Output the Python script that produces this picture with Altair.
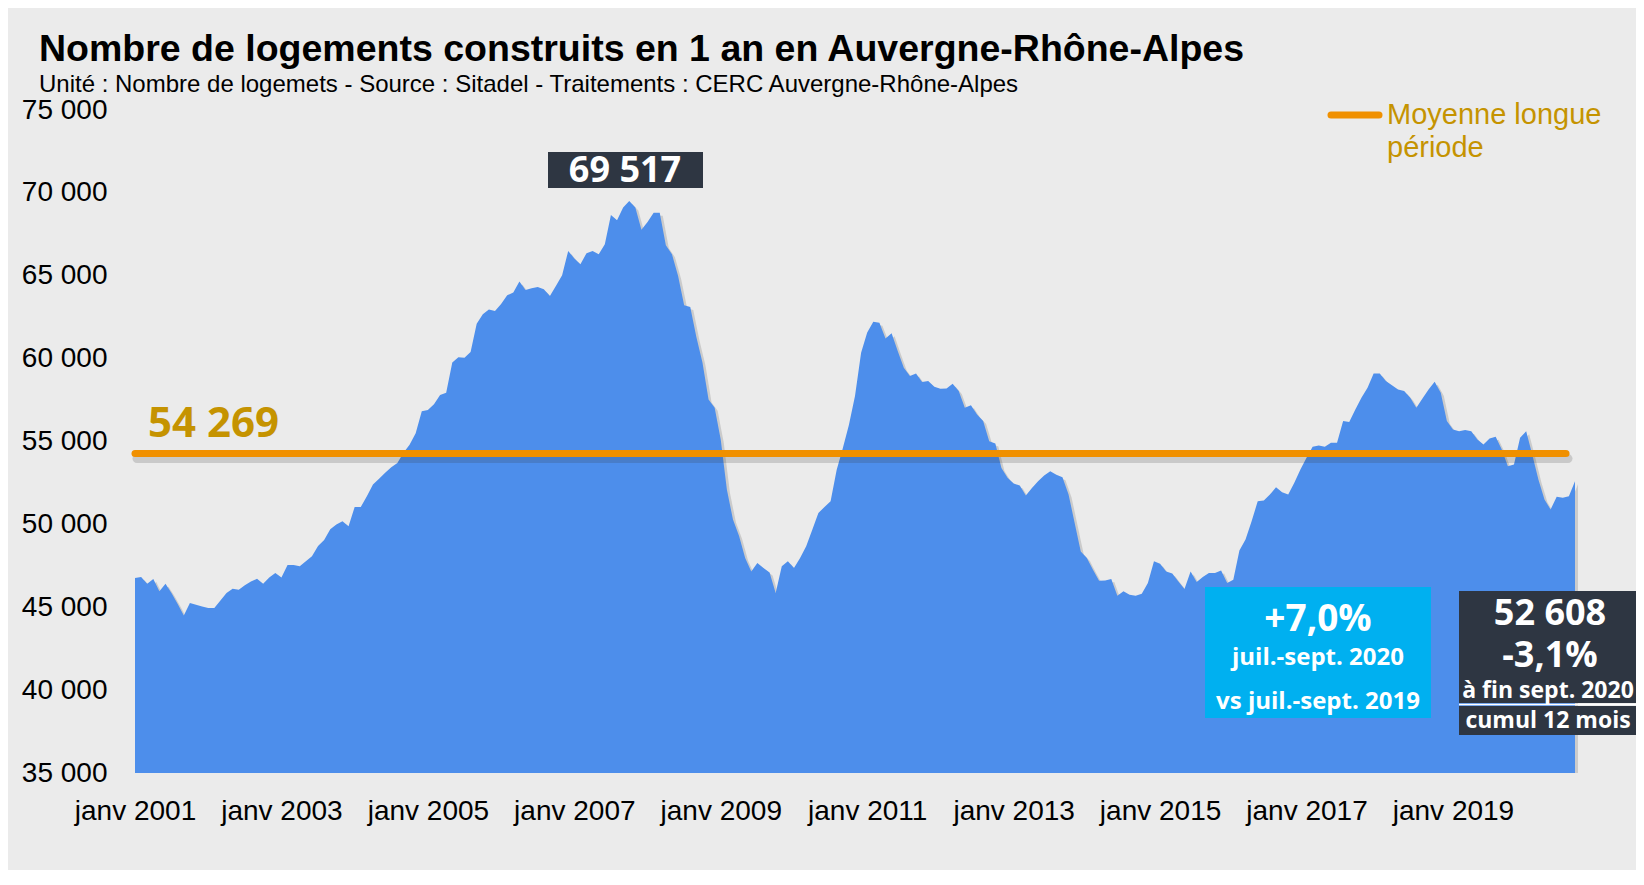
import altair as alt
import pandas as pd

# Monthly 12-month cumulative housing starts, Jan 2001 .. Sep 2020
values = [
    46760, 46830, 46420, 46700, 45960, 46420, 45850, 45200, 44500, 45250, 45150, 45050,  # 2001
    44950, 44950, 45410, 45860, 46120, 46060, 46320, 46550, 46720, 46420, 46800, 47070,  # 2002
    46800, 47550, 47550, 47470, 47770, 48070, 48700, 49050, 49700, 50000, 50190, 49880,  # 2003
    51050, 51050, 51700, 52400, 52750, 53110, 53450, 53710, 54320, 54800, 55500, 56830,  # 2004
    56900, 57240, 57800, 57940, 59760, 60090, 60050, 60400, 62100, 62670, 62970, 62870,  # 2005
    63300, 63820, 63990, 64650, 64140, 64250, 64320, 64180, 63780, 64390, 65030, 66500,  # 2006
    66040, 65700, 66360, 66500, 66300, 66900, 68660, 68350, 69120, 69517, 69120, 67770,  # 2007
    68250, 68800, 68800, 66840, 66300, 65000, 63220, 63120, 61300, 59760, 57540, 57040,  # 2008
    55100, 52100, 50290, 49300, 47970, 47160, 47670, 47370, 47100, 45860, 47470, 47770,  # 2009
    47370, 47970, 48680, 49680, 50690, 51050, 51390, 53300, 54600, 56000, 57740, 60360,  # 2010
    61570, 62230, 62170, 61220, 61530, 60460, 59450, 58950, 59110, 58590, 58650, 58310,  # 2011
    58180, 58200, 58490, 58040, 57040, 57180, 56630, 56230, 55020, 54880, 53400, 52810,  # 2012
    52460, 52340, 51740, 52200, 52600, 52950, 53200, 53000, 52840, 51800, 50090, 48370,  # 2013
    47970, 47270, 46600, 46620, 46700, 45700, 45960, 45760, 45700, 45820, 46460, 47770,  # 2014
    47630, 47160, 47030, 46560, 46100, 47160, 46520, 46830, 47070, 47070, 47210, 46460,  # 2015
    46660, 48430, 49080, 50190, 51390, 51440, 51800, 52240, 51940, 51800, 52510, 53310,  # 2016
    54020, 54680, 54760, 54680, 54920, 54920, 56230, 56170, 56930, 57640, 58250, 59110,  # 2017
    59110, 58650, 58390, 58140, 58040, 57640, 57040, 57600, 58140, 58610, 57940, 56230,  # 2018
    55730, 55620, 55690, 55620, 55120, 54820, 55180, 55290, 54520, 53510, 53610, 55220,  # 2019
    55620, 54200, 52700, 51500, 50890, 51660, 51600, 51700, 52608,                       # 2020
]
start_year = 2001
x_tick_years = [2001, 2003, 2005, 2007, 2009, 2011, 2013, 2015, 2017, 2019]
y_ticks = [35000, 40000, 45000, 50000, 55000, 60000, 65000, 70000, 75000]
moyenne = 54269
peak_label = "69 517"

title_text = "Nombre de logements construits en 1 an en Auvergne-Rhône-Alpes"
subtitle_text = "Unité : Nombre de logemets - Source : Sitadel - Traitements : CERC Auvergne-Rhône-Alpes"
legend_lines = ["Moyenne longue", "période"]
box1_lines = ["+7,0%", "juil.-sept. 2020", "vs juil.-sept. 2019"]
box2_lines = ["52 608", "-3,1%", "à fin sept. 2020", "cumul 12 mois"]

df = pd.DataFrame({"m": list(range(len(values))), "v": values})

W, H = 1440, 663
GOLD = "#C59300"
ORANGE = "#F09000"
BLUE = "#4D8EEB"
DARK = "#2E3642"
CYAN = "#00B0F0"
SANS = "Liberation Sans"
BOLDF = "Open Sans"

x_enc = alt.X(
    "m:Q",
    scale=alt.Scale(domain=[0, len(values) - 1], nice=False, zero=False),
    axis=alt.Axis(
        values=[(y - start_year) * 12 for y in x_tick_years],
        labelExpr="'janv ' + (%d + datum.value / 12)" % start_year,
        labelFont=SANS, labelFontSize=28, labelColor="#000000",
        labelPadding=24, labelFlush=False, labelOverlap=False,
        domain=False, ticks=False, grid=False, title=None,
    ),
)
y_enc = alt.Y(
    "v:Q",
    scale=alt.Scale(domain=[y_ticks[0], y_ticks[-1]], nice=False, zero=False),
    axis=alt.Axis(
        values=y_ticks,
        labelExpr="replace(format(datum.value, ',d'), ',', ' ')",
        labelFont=SANS, labelFontSize=28, labelColor="#000000",
        labelPadding=28, labelFlush=False, labelOverlap=False,
        domain=False, ticks=False, grid=False, title=None,
    ),
)

base = alt.Chart(df)
area_shadow = base.mark_area(color="#8f8f8f", opacity=0.35, xOffset=3, yOffset=3).encode(
    x=x_enc, y=y_enc, y2=alt.datum(y_ticks[0])
)
area = base.mark_area(color=BLUE).encode(x=x_enc, y=y_enc, y2=alt.datum(y_ticks[0]))

one = pd.DataFrame({"a": [0]})

rule_shadow = alt.Chart(one).mark_rule(
    color="#333333", opacity=0.18, strokeWidth=9, strokeCap="round", yOffset=5
).encode(x=alt.value(2), x2=alt.value(1433), y=alt.datum(moyenne))
rule = alt.Chart(one).mark_rule(color=ORANGE, strokeWidth=7, strokeCap="round").encode(
    x=alt.value(0), x2=alt.value(1431), y=alt.datum(moyenne)
)


def rect(x, x2, y, y2, color):
    return alt.Chart(one).mark_rect(color=color).encode(
        x=alt.value(x), x2=alt.value(x2), y=alt.value(y), y2=alt.value(y2)
    )


def txt(s, x, y, size, color="#000000", font=SANS, weight="normal", align="left"):
    return alt.Chart(pd.DataFrame({"t": [s]})).mark_text(
        font=font, fontSize=size, fontWeight=weight, color=color,
        align=align, baseline="middle",
    ).encode(text="t:N", x=alt.value(x), y=alt.value(y))


layers = [
    area_shadow, area, rule_shadow, rule,
    # title and subtitle
    txt(title_text, -96, -60, 37.5, weight="bold"),
    txt(subtitle_text, -96, -25, 24),
    # average label
    txt("54 269", 13, 314, 42, color=GOLD, font=BOLDF, weight="bold"),
    # peak box
    rect(413, 568, 42, 78, DARK),
    txt(peak_label, 490, 61, 36, color="#FFFFFF", font=BOLDF, weight="bold", align="center"),
    # legend
    alt.Chart(one).mark_rule(color=ORANGE, strokeWidth=7, strokeCap="round").encode(
        x=alt.value(1196), x2=alt.value(1244), y=alt.value(5)
    ),
    txt(legend_lines[0], 1252, 5, 29, color=GOLD),
    txt(legend_lines[1], 1252, 38, 29, color=GOLD),
    # cyan box
    rect(1070, 1296, 477, 608, CYAN),
    txt(box1_lines[0], 1183, 510, 37, color="#FFFFFF", font=BOLDF, weight="bold", align="center"),
    txt(box1_lines[1], 1183, 548, 24, color="#FFFFFF", font=BOLDF, weight="bold", align="center"),
    txt(box1_lines[2], 1183, 592, 24, color="#FFFFFF", font=BOLDF, weight="bold", align="center"),
    # dark box
    rect(1324, 1520, 481, 593, DARK),
    rect(1324, 1520, 596, 625, DARK),
    alt.Chart(one).mark_rule(color="#FFFFFF", strokeWidth=1.5).encode(
        x=alt.value(1324), x2=alt.value(1520), y=alt.value(594.5)
    ),
    txt(box2_lines[0], 1415, 504, 36, color="#FFFFFF", font=BOLDF, weight="bold", align="center"),
    txt(box2_lines[1], 1415, 546, 36, color="#FFFFFF", font=BOLDF, weight="bold", align="center"),
    txt(box2_lines[2], 1413, 581, 23, color="#FFFFFF", font=BOLDF, weight="bold", align="center"),
    txt(box2_lines[3], 1413, 611, 23, color="#FFFFFF", font=BOLDF, weight="bold", align="center"),
]

chart = alt.layer(*layers).properties(
    width=W, height=H,
    padding={"left": 127, "top": 102, "right": 61, "bottom": 97},
    autosize=alt.AutoSizeParams(type="none"),
    background="#EBEBEB",
).configure_view(stroke=None)

chart.save("out.html", embed_options={"renderer": "svg", "actions": False})
